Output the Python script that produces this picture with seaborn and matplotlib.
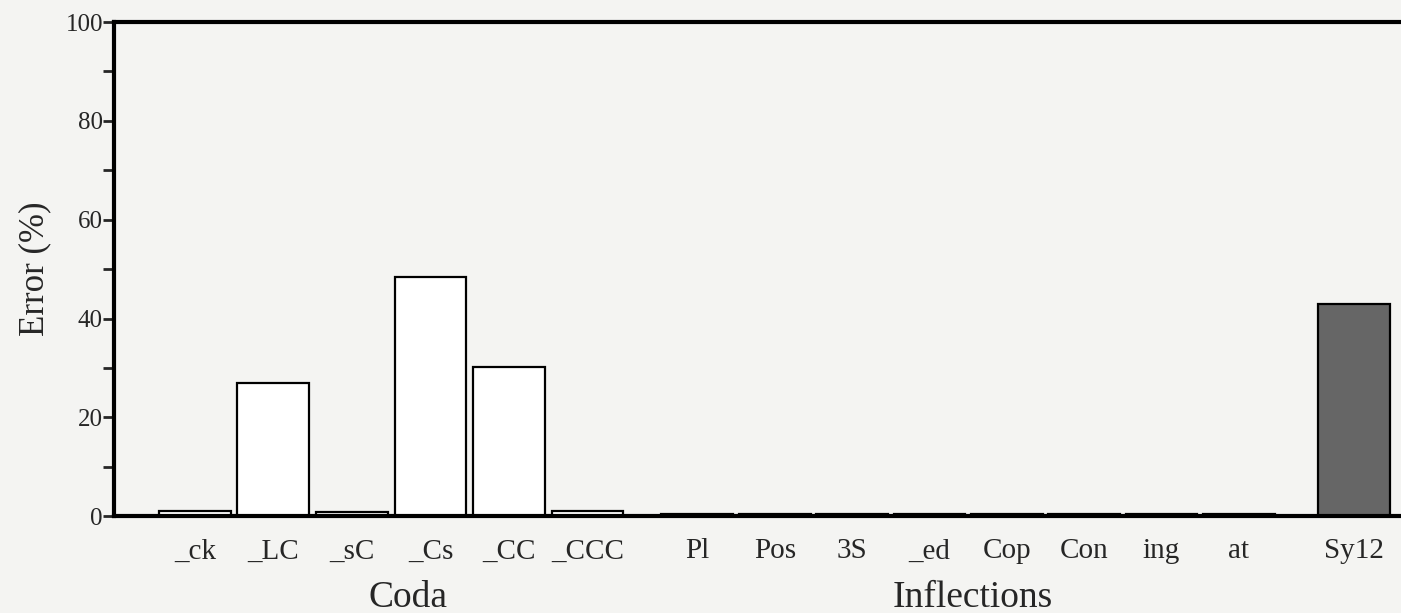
import numpy as np
import pandas as pd
import seaborn as sns
import matplotlib

matplotlib.use("Agg")
import matplotlib.pyplot as plt
from matplotlib import ticker, transforms

# values (percent error)
coda_labels = ["_ck", "_LC", "_sC", "_Cs", "_CC", "_CCC"]
coda_error = [1.0, 27.0, 0.8, 48.4, 30.2, 1.1]
infl_labels = ["Pl", "Pos", "3S", "_ed", "Cop", "Con", "ing", "at", "Sy12"]
infl_error = [0.5, 0.5, 0.5, 0.5, 0.5, 0.5, 0.5, 0.5, 43.0]
group_names = ["Coda", "Inflections"]

# layout of the slots on a numeric x axis
INFL_START = 6.4
INFL_STEP = 0.985
SY_EXTRA = 0.48
PAPER = "#f4f4f2"
SHADE = "#666666"

coda_x = np.arange(len(coda_labels), dtype=float)
infl_x = INFL_START + INFL_STEP * np.arange(len(infl_labels), dtype=float)
infl_x[-1] += SY_EXTRA

df = pd.DataFrame(
    {
        "label": coda_labels + infl_labels,
        "error": coda_error + infl_error,
        "group": [group_names[0]] * len(coda_labels) + [group_names[1]] * len(infl_labels),
        "x": np.concatenate([coda_x, infl_x]),
    }
)

sns.set_style("ticks")
plt.rcParams["font.family"] = ["Liberation Serif", "DejaVu Serif"]

fig = plt.figure(figsize=(14.01, 6.13), dpi=100, facecolor=PAPER)
ax = fig.add_axes([0.0814, 0.158, 0.9186, 0.806])
ax.set_facecolor(PAPER)

sns.barplot(
    data=df,
    x="x",
    y="error",
    hue="group",
    palette={group_names[0]: "white", group_names[1]: SHADE},
    native_scale=True,
    dodge=False,
    width=0.93,
    edgecolor="black",
    linewidth=1.6,
    legend=False,
    ax=ax,
)

ax.set_xlim(-1.03, 15.36)
ax.set_ylim(0, 100)

ax.set_xticks(df["x"])
ax.set_xticklabels(df["label"], fontsize=21)
ax.tick_params(axis="x", length=0, pad=16)

ax.yaxis.set_major_locator(ticker.MultipleLocator(20))
ax.yaxis.set_minor_locator(ticker.MultipleLocator(10))
ax.tick_params(axis="y", which="major", direction="out", length=8, width=2, labelsize=18, pad=0)
ax.tick_params(axis="y", which="minor", direction="out", length=8, width=2)
ax.set_ylabel("Error (%)", fontsize=25, labelpad=10)
ax.set_xlabel("")

for side in ["left", "bottom", "top"]:
    ax.spines[side].set_linewidth(3)
    ax.spines[side].set_color("black")
ax.spines["right"].set_visible(False)

trans = transforms.blended_transform_factory(ax.transData, ax.transAxes)
ax.text(2.72, -0.184, group_names[0], transform=trans, ha="center", va="baseline", fontsize=27)
ax.text(9.9, -0.184, group_names[1], transform=trans, ha="center", va="baseline", fontsize=27)

fig.savefig("out.png", dpi=100, facecolor=PAPER)
